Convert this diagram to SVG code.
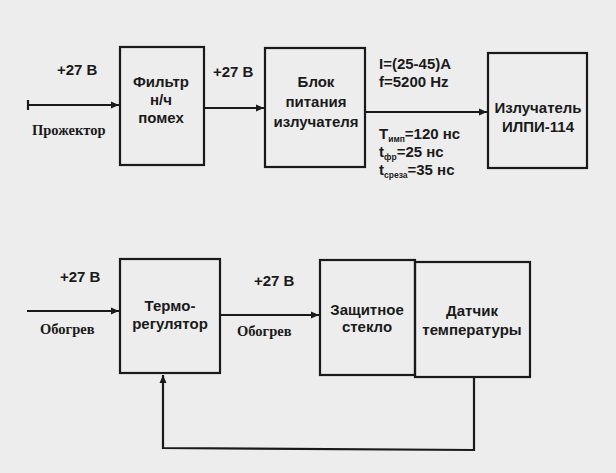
<svg xmlns="http://www.w3.org/2000/svg" width="616" height="473" viewBox="0 0 616 473">
<defs>
<marker id="ah" markerWidth="9" markerHeight="9" refX="8" refY="4.5" orient="auto" markerUnits="userSpaceOnUse">
<path d="M0,1 L8,4.5 L0,8 Z" fill="#1a1a1a"/>
</marker>
<style>
.box{fill:none;stroke:#1a1a1a;stroke-width:2.2}
.ln{fill:none;stroke:#1a1a1a;stroke-width:2.2}
.t{font-family:"Liberation Sans",Arial,sans-serif;font-weight:bold;font-size:15px;fill:#1a1a1a;text-anchor:middle}
.l{font-family:"Liberation Sans",Arial,sans-serif;font-weight:bold;font-size:15px;fill:#1a1a1a}
.s{font-family:"Liberation Serif","Times New Roman",serif;font-weight:bold;font-size:14.5px;fill:#1a1a1a}
.sub{font-size:8.5px}
</style>
</defs>
<rect width="616" height="473" fill="#ededed"/>
<g id="connectors">
<path class="ln" d="M28,105 L119,105" marker-end="url(#ah)"/>
<path class="ln" d="M28,100 L28,110" stroke-width="1.5"/>
<path class="ln" d="M204,108 L264,108" marker-end="url(#ah)"/>
<path class="ln" d="M365,112 L487,112" marker-end="url(#ah)"/>
<path class="ln" d="M27,311 L119,311" marker-end="url(#ah)"/>
<path class="ln" d="M220,315 L319,315" marker-end="url(#ah)"/>
<path class="ln" d="M474,377 L474,450 L163,448 L163,375" marker-end="url(#ah)"/>
</g>
<g id="filter">
<rect class="box" x="120" y="47" width="84" height="118"/>
<text class="t" x="161" y="87">Фильтр</text>
<text class="t" x="161" y="105">н/ч</text>
<text class="t" x="161" y="123">помех</text>
</g>
<g id="psu">
<rect class="box" x="265" y="48" width="100" height="119"/>
<text class="t" x="316" y="87">Блок</text>
<text class="t" x="316" y="107">питания</text>
<text class="t" x="316" y="127">излучателя</text>
</g>
<g id="emitter">
<rect class="box" x="488" y="53" width="99" height="115"/>
<text class="t" x="538" y="113">Излучатель</text>
<text class="t" x="538" y="132">ИЛПИ-114</text>
</g>
<g id="thermo">
<rect class="box" x="120" y="259" width="100" height="114"/>
<text class="t" x="170" y="311">Термо-</text>
<text class="t" x="170" y="329">регулятор</text>
</g>
<g id="glass">
<rect class="box" x="320" y="260" width="95" height="115"/>
<text class="t" x="367" y="315">Защитное</text>
<text class="t" x="367" y="332">стекло</text>
</g>
<g id="sensor">
<rect class="box" x="415" y="262" width="115" height="115"/>
<text class="t" x="472" y="316">Датчик</text>
<text class="t" x="472" y="335">температуры</text>
</g>
<g id="labels">
<text class="l" x="57" y="75">+27 В</text>
<text class="l" x="213" y="77">+27 В</text>
<text class="s" x="32" y="135">Прожектор</text>
<text class="l" x="379" y="69">I=(25-45)A</text>
<text class="l" x="379" y="87">f=5200 Hz</text>
<text class="l" x="379" y="139">T<tspan class="sub" dy="3">имп</tspan><tspan dy="-3">=120 нс</tspan></text>
<text class="l" x="379" y="157">t<tspan class="sub" dy="3">фр</tspan><tspan dy="-3">=25 нс</tspan></text>
<text class="l" x="379" y="175">t<tspan class="sub" dy="3">среза</tspan><tspan dy="-3">=35 нс</tspan></text>
<text class="l" x="60" y="282">+27 В</text>
<text class="s" x="40" y="334">Обогрев</text>
<text class="l" x="254" y="286">+27 В</text>
<text class="s" x="237" y="336">Обогрев</text>
</g>
</svg>
